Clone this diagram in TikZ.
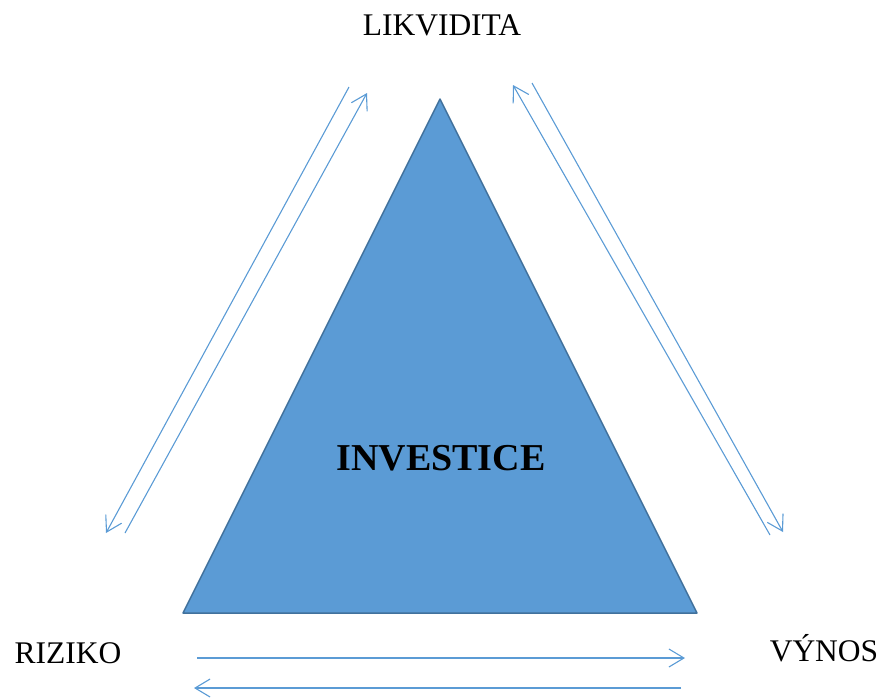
\documentclass[tikz,border=0pt]{standalone}
\usepackage{fontspec}
\setmainfont{Liberation Serif}
\usetikzlibrary{arrows.meta}
\definecolor{accent}{RGB}{91,155,213}
\definecolor{edgeblue}{RGB}{65,113,156}
\begin{document}
\begin{tikzpicture}[x=1pt,y=-1pt,
  lbl/.style={font=\fontsize{31.5}{36}\selectfont, anchor=base, inner sep=0pt},
  rel/.style={draw=accent, line width=1.1pt, -{Straight Barb[length=15pt,width=18pt,line width=1.1pt]}},
  plain/.style={draw=accent, line width=1.1pt}]
\useasboundingbox (0,0) rectangle (885,697);
% triangle
\coordinate (apex) at (440,99);
\coordinate (bl) at (183,613);
\coordinate (br) at (697,613);
\fill[accent, draw=edgeblue, line width=1.5pt, line join=round] (apex) -- (br) -- (bl) -- cycle;
\node[lbl, font=\fontsize{38}{44}\selectfont\bfseries] (inv) at (441,470) {INVESTICE};
% labels
\node[lbl] (lik) at (442,35) {LIKVIDITA};
\node[lbl] (riz) at (68,663) {RIZIKO};
\node[lbl] (vyn) at (824,661) {VÝNOS};
% left pair
\coordinate (l1a) at (125,533); \coordinate (l1b) at (367,93);
\coordinate (l2a) at (349,87);  \coordinate (l2b) at (106,533);
\draw[rel] (l1a) -- (l1b);
\draw[rel] (l2a) -- (l2b);
% right pair
\coordinate (r1a) at (770,535); \coordinate (r1b) at (513,85);
\coordinate (r2a) at (532,83);  \coordinate (r2b) at (783,532);
\draw[rel] (r1a) -- (r1b);
\draw[rel] (r2a) -- (r2b);
% bottom pair
\coordinate (b1a) at (197,658); \coordinate (b1b) at (685,658);
\coordinate (b2a) at (681,688); \coordinate (b2b) at (194,688);
\draw[rel] (b1a) -- (b1b);
\draw[rel] (b2a) -- (b2b);
\end{tikzpicture}
\end{document}
